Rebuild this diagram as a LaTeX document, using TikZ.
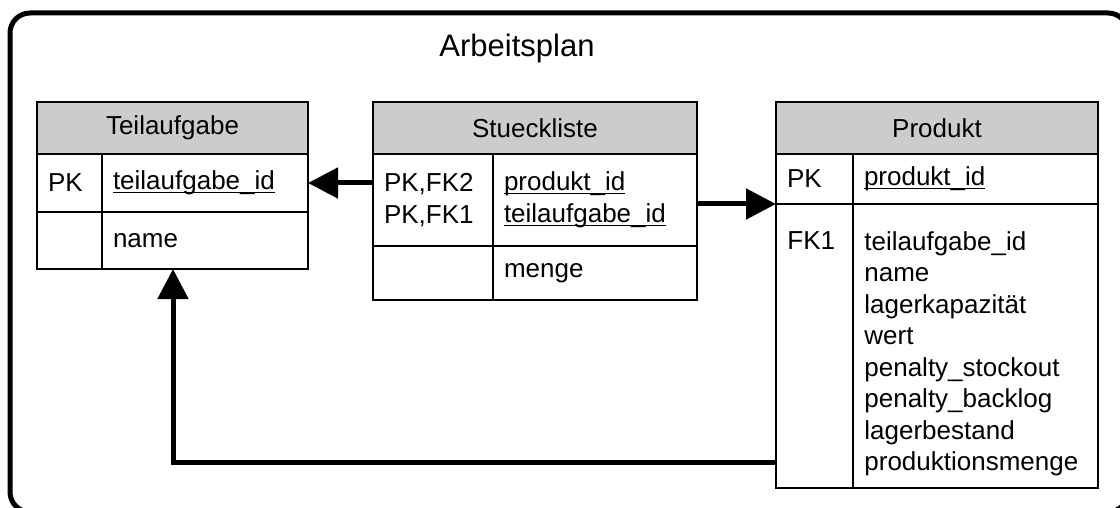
\documentclass[tikz,border=0pt]{standalone}
\usepackage{fontspec}
\setmainfont{Liberation Sans}
\usetikzlibrary{arrows.meta}

\newcommand\keyfield[1]{\underline{\smash{#1}}\vphantom{#1}}

\tikzset{
	cell/.style={draw,line width=0.75pt,anchor=north west,outer sep=0pt,
		inner xsep=5.5pt,inner ysep=0pt,align=left,
		font=\fontsize{13}{15.75}\selectfont},
	head/.style={cell,fill=black!20,align=center,minimum height=26pt},
	lbl/.style={anchor=north west,inner sep=0pt,align=left,xshift=5.5pt,yshift=-13.5pt,
		font=\fontsize{13}{15.75}\selectfont},
	link/.style={line width=2.5pt,-{Triangle[length=15pt,width=15pt]}}
}

\begin{document}
\begin{tikzpicture}[x=0.5pt,y=-0.5pt]

	\useasboundingbox (0,0) rectangle (1120,508);
	\draw[line width=2.5pt,rounded corners=10pt] (10,13) rectangle (1128,512); %Rahmen
	\node[anchor=base,font=\fontsize{15.5}{18}\selectfont] (title) at (517,57) {Arbeitsplan};

	%Teilaufgabe
	\node[head,text width=124.5pt] (ta-h) at (37,102) {Teilaufgabe};
	\node[cell,text width=21.5pt,minimum height=29pt] (ta-pk) at (ta-h.south west) {PK};
	\node[cell,text width=92pt,minimum height=29pt] (ta-id) at (ta-pk.north east) {\keyfield{teilaufgabe\_id}};
	\node[cell,text width=21.5pt,minimum height=28.5pt] (ta-k) at (ta-pk.south west) {};
	\node[cell,text width=92pt,minimum height=28.5pt] (ta-name) at (ta-k.north east) {name};

	%Stueckliste
	\node[head,text width=151pt] (sl-h) at (373,102) {Stueckliste};
	\node[cell,text width=49pt,minimum height=46pt] (sl-pk) at (sl-h.south west) {PK,FK2\\PK,FK1};
	\node[cell,text width=91pt,minimum height=46pt] (sl-id) at (sl-pk.north east) {\keyfield{produkt\_id}\\\keyfield{teilaufgabe\_id}};
	\node[cell,text width=49pt,minimum height=27pt] (sl-k) at (sl-pk.south west) {};
	\node[cell,text width=91pt,minimum height=27pt] (sl-menge) at (sl-k.north east) {menge};

	%Produkt
	\node[head,text width=150pt] (pr-h) at (776,102) {Produkt};
	\node[cell,text width=27.5pt,minimum height=25pt] (pr-pk) at (pr-h.south west) {PK};
	\node[cell,text width=111.5pt,minimum height=25pt] (pr-id) at (pr-pk.north east) {\keyfield{produkt\_id}};
	\node[cell,text width=27.5pt,minimum height=142pt,label={[lbl]north west:FK1}] (pr-fk) at (pr-pk.south west) {};
	\node[cell,text width=111.5pt,minimum height=142pt,
		label={[lbl]north west:{teilaufgabe\_id\\name\\lagerkapazität\\wert\\penalty\_stockout\\penalty\_backlog\\lagerbestand\\produktionsmenge}}] (pr-attr) at (pr-fk.north east) {};

	%Beziehungen
	\coordinate (pr-out) at ([yshift=13pt]pr-fk.south west);
	\coordinate (ta-in) at ([xshift=35.5pt]ta-name.south west);
	\draw[link] (ta-id.east -| sl-pk.west) -- (ta-id.east);
	\draw[link] (pr-pk.south west -| sl-id.east) -- (pr-pk.south west);
	\draw[link] (pr-out) -| (ta-in);

\end{tikzpicture}
\end{document}
